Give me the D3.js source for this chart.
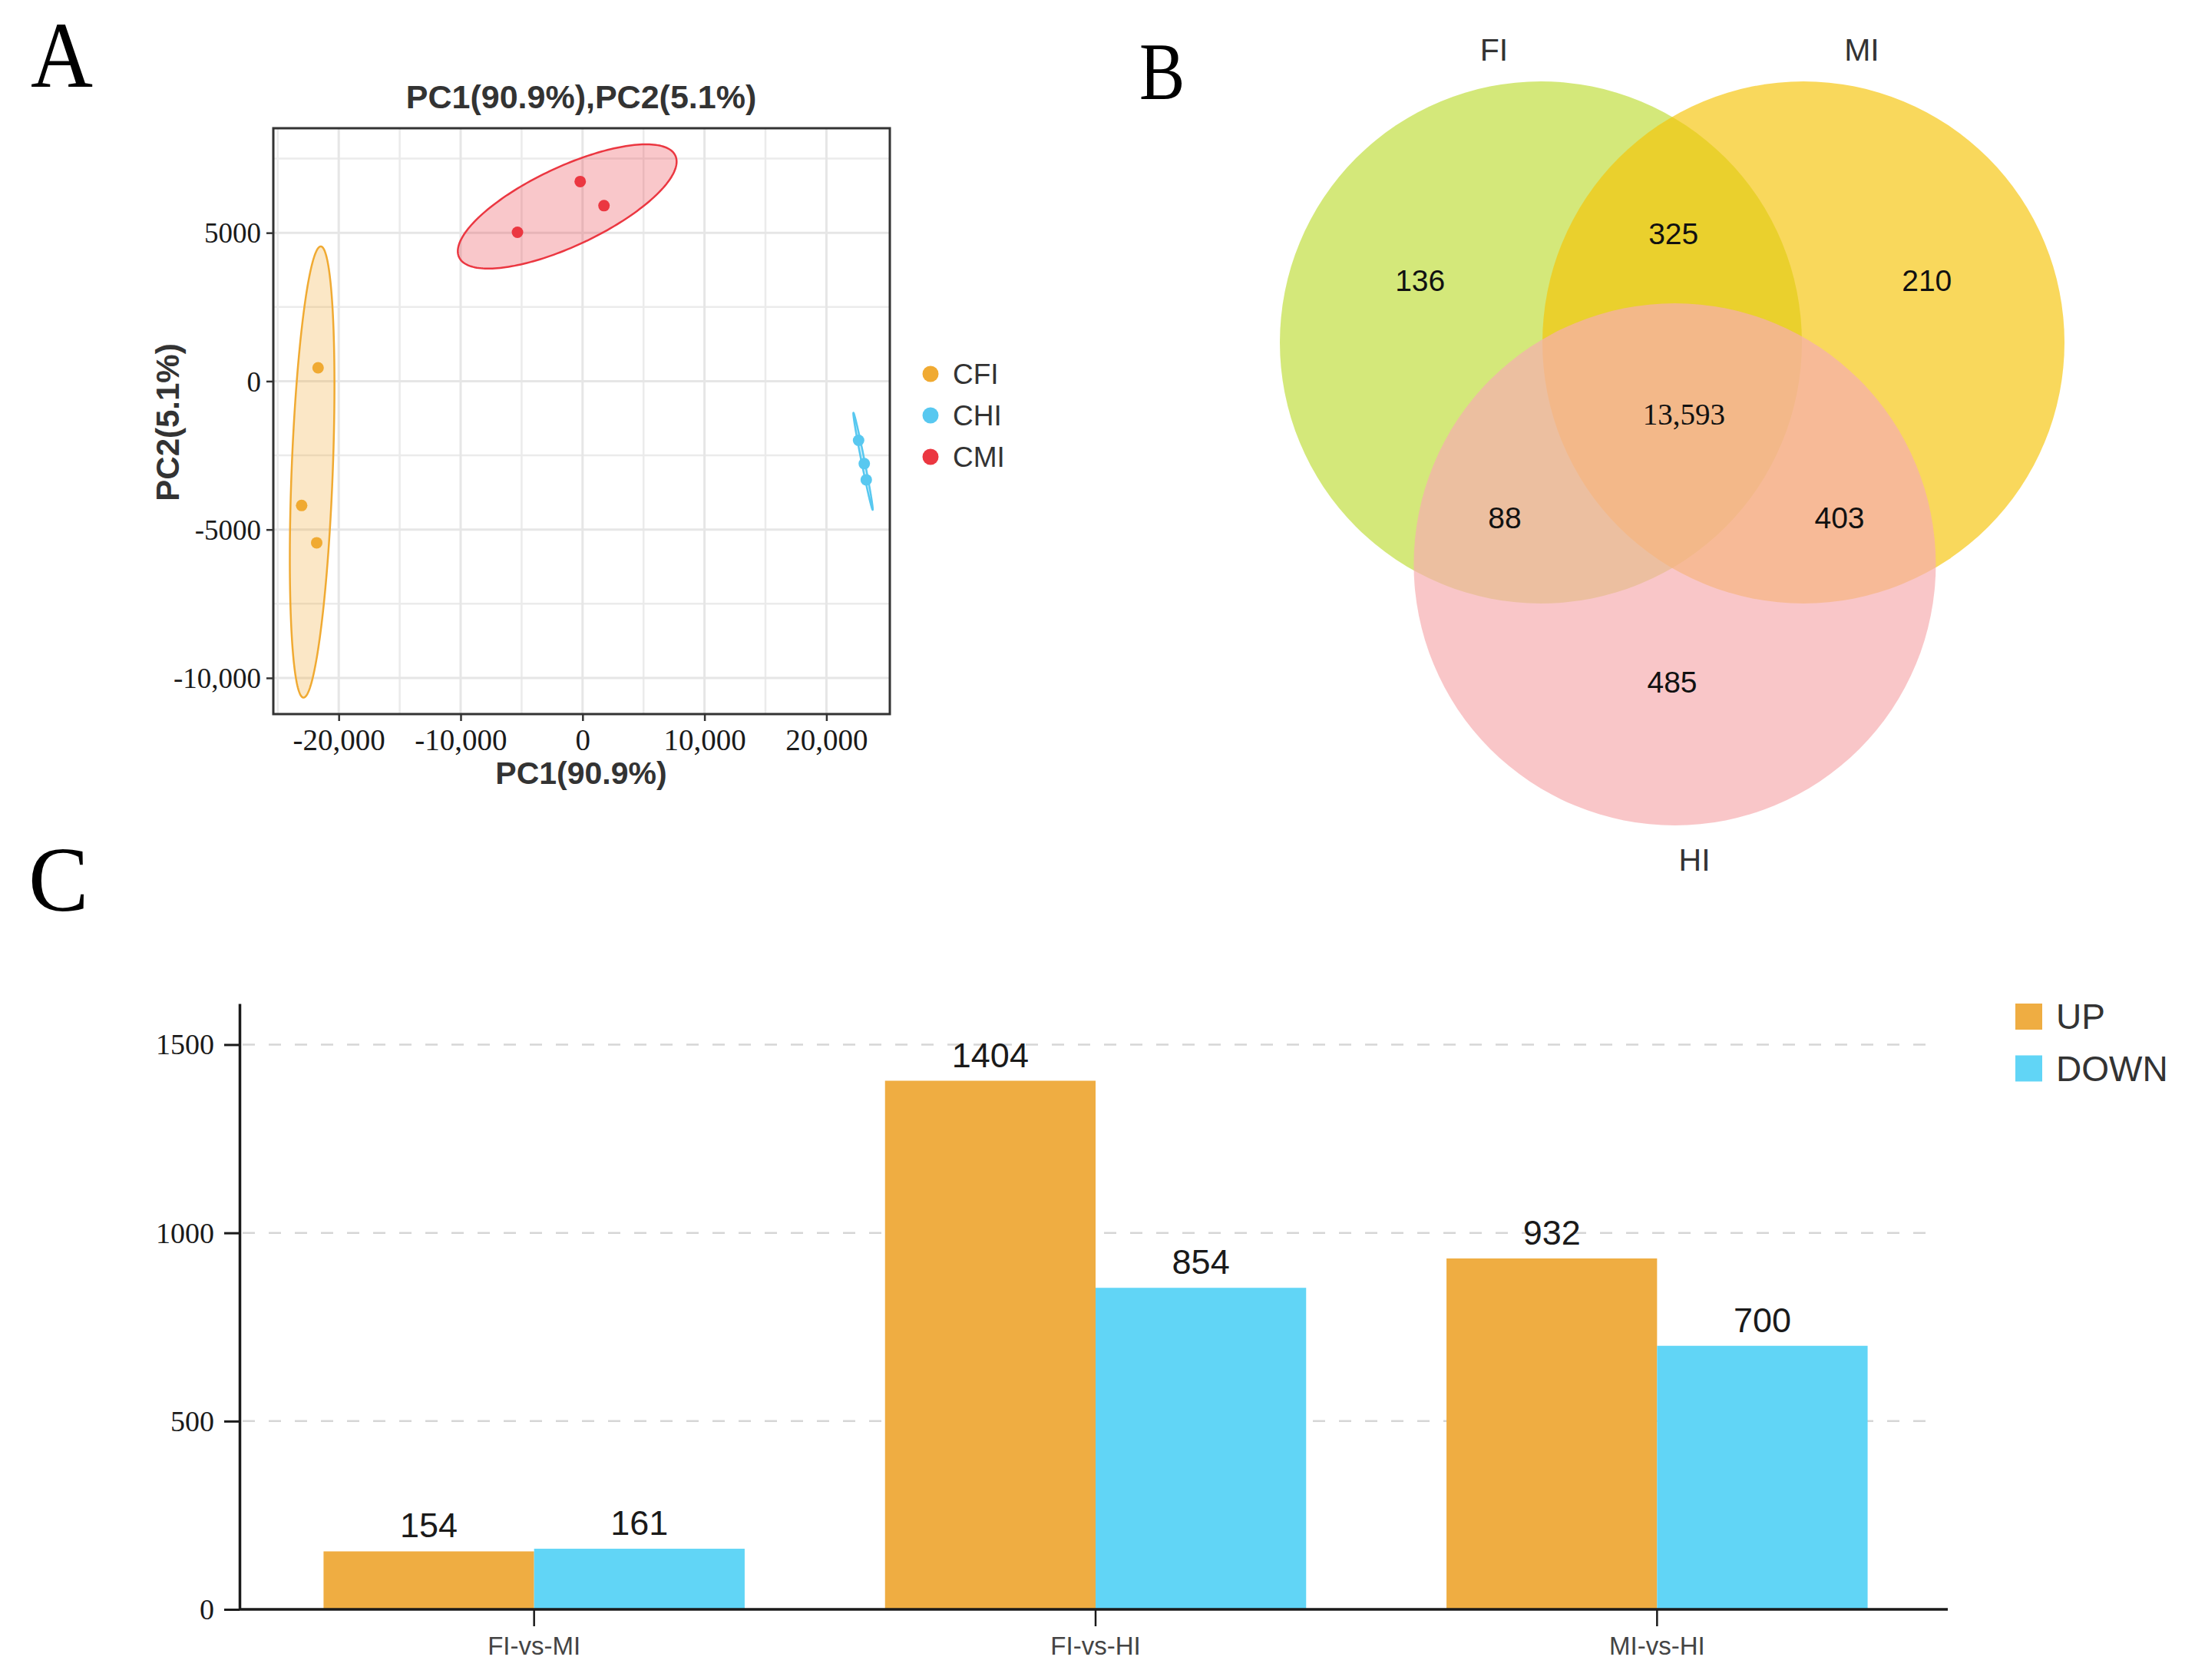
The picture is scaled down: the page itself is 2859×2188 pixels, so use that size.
<!DOCTYPE html>
<html>
<head>
<meta charset="utf-8">
<script src="https://cdn.jsdelivr.net/npm/d3@7"></script>
<style>
  body { margin: 0; background: #fff; }
  svg { display: block; }
</style>
</head>
<body>
<div class="chart"></div>
<script>
// ---- data ----
// A: PCA scores
var pcaGroups = ["CFI", "CHI", "CMI"];
var cfiPC1 = [-21694, -23042, -21807];
var cfiPC2 = [451, -4189, -5446];
var chiPC1 = [22639, 23105, 23268];
var chiPC2 = [-1995, -2780, -3324];
var cmiPC1 = [-195, 1757, -5340];
var cmiPC2 = [6728, 5914, 5018];
var pcaXTicks = [-20000, -10000, 0, 10000, 20000];
var pcaXLabels = ["-20,000", "-10,000", "0", "10,000", "20,000"];
var pcaYTicks = [-10000, -5000, 0, 5000];
var pcaYLabels = ["-10,000", "-5000", "0", "5000"];
var pcaXMinor = [-25000, -15000, -5000, 5000, 15000];
var pcaYMinor = [-7500, -2500, 2500, 7500];

// B: Venn counts
var vennSets = ["FI", "MI", "HI"];
var vennRegions = ["FI", "FI&MI", "MI", "FI&MI&HI", "FI&HI", "MI&HI", "HI"];
var vennCounts = ["136", "325", "210", "13,593", "88", "403", "485"];

// C: differential counts
var compCats = ["FI-vs-MI", "FI-vs-HI", "MI-vs-HI"];
var upVals = [154, 1404, 932];
var downVals = [161, 854, 700];
var barSeries = ["UP", "DOWN"];
var barYTicks = [0, 500, 1000, 1500];

var svgWidth = 2859;
var svgHeight = 2188;
var SANS = "'Liberation Sans', Arial, sans-serif";
var SERIF = "'Liberation Serif', 'Times New Roman', serif";

var svg = d3.select(".chart")
  .append("svg")
  .attr("width", svgWidth)
  .attr("height", svgHeight);

svg.append("rect").attr("width", svgWidth).attr("height", svgHeight).attr("fill", "#fff");

// panel letters (the originals are a bit condensed)
[["A", 40, 113, 122, 0.92], ["B", 1484, 129, 106, 0.84], ["C", 37, 1186, 120, 0.98]].forEach(function(p) {
  svg.append("text")
    .attr("transform", `translate(${p[1]}, ${p[2]}) scale(${p[4]}, 1)`)
    .attr("font-family", SERIF)
    .attr("font-size", p[3])
    .attr("fill", "#000")
    .text(p[0]);
});

// ================= A: PCA =================
var pcaColor = { CFI: "#F0AA32", CHI: "#58C8F0", CMI: "#EB3741" };
var pcaData = {
  CFI: cfiPC1.map(function(v, i) { return { x: v, y: cfiPC2[i] }; }),
  CHI: chiPC1.map(function(v, i) { return { x: v, y: chiPC2[i] }; }),
  CMI: cmiPC1.map(function(v, i) { return { x: v, y: cmiPC2[i] }; })
};

var xPca = d3.scaleLinear().domain([-25365, 25201]).range([356, 1159]);
var yPca = d3.scaleLinear().domain([-11218, 8523]).range([930, 167]);

var gA = svg.append("g");

// grid
gA.selectAll("line.minx").data(pcaXMinor).enter().append("line")
  .attr("x1", d => xPca(d)).attr("x2", d => xPca(d))
  .attr("y1", yPca.range()[1]).attr("y2", yPca.range()[0])
  .attr("stroke", "#EBEBEB").attr("stroke-width", 2.5);
gA.selectAll("line.miny").data(pcaYMinor).enter().append("line")
  .attr("y1", d => yPca(d)).attr("y2", d => yPca(d))
  .attr("x1", xPca.range()[0]).attr("x2", xPca.range()[1])
  .attr("stroke", "#EBEBEB").attr("stroke-width", 2.5);
gA.selectAll("line.majx").data(pcaXTicks).enter().append("line")
  .attr("x1", d => xPca(d)).attr("x2", d => xPca(d))
  .attr("y1", yPca.range()[1]).attr("y2", yPca.range()[0])
  .attr("stroke", "#E6E6E6").attr("stroke-width", 3);
gA.selectAll("line.majy").data(pcaYTicks).enter().append("line")
  .attr("y1", d => yPca(d)).attr("y2", d => yPca(d))
  .attr("x1", xPca.range()[0]).attr("x2", xPca.range()[1])
  .attr("stroke", "#E6E6E6").attr("stroke-width", 3);

// 95% ellipses from sample covariance
function ellipsePoints(pts) {
  var n = pts.length;
  var mx = d3.mean(pts, d => d.x), my = d3.mean(pts, d => d.y);
  var sxx = d3.sum(pts, d => (d.x - mx) * (d.x - mx)) / (n - 1);
  var syy = d3.sum(pts, d => (d.y - my) * (d.y - my)) / (n - 1);
  var sxy = d3.sum(pts, d => (d.x - mx) * (d.y - my)) / (n - 1);
  var l11 = Math.sqrt(sxx), l21 = sxy / l11, l22 = Math.sqrt(Math.max(syy - l21 * l21, 0));
  var r = Math.sqrt(5.991);
  return d3.range(0, 200).map(function(k) {
    var t = k / 200 * 2 * Math.PI;
    return { x: mx + r * l11 * Math.cos(t), y: my + r * (l21 * Math.cos(t) + l22 * Math.sin(t)) };
  });
}
var ellLine = d3.line().x(d => xPca(d.x)).y(d => yPca(d.y)).curve(d3.curveLinearClosed);

pcaGroups.forEach(function(g) {
  gA.append("path")
    .attr("d", ellLine(ellipsePoints(pcaData[g])))
    .attr("fill", pcaColor[g])
    .attr("fill-opacity", 0.28)
    .attr("stroke", pcaColor[g])
    .attr("stroke-width", 2.5);
});
pcaGroups.forEach(function(g) {
  gA.selectAll("circle." + g).data(pcaData[g]).enter().append("circle")
    .attr("cx", d => xPca(d.x))
    .attr("cy", d => yPca(d.y))
    .attr("r", 7.5)
    .attr("fill", pcaColor[g]);
});

// border
gA.append("rect")
  .attr("x", xPca.range()[0]).attr("y", yPca.range()[1])
  .attr("width", xPca.range()[1] - xPca.range()[0])
  .attr("height", yPca.range()[0] - yPca.range()[1])
  .attr("fill", "none").attr("stroke", "#333").attr("stroke-width", 3);

// axes
var axA_x = gA.append("g")
  .attr("transform", `translate(0, ${yPca.range()[0]})`)
  .call(d3.axisBottom(xPca).tickValues(pcaXTicks).tickFormat((d, i) => pcaXLabels[i]).tickSize(9).tickPadding(10));
var axA_y = gA.append("g")
  .attr("transform", `translate(${xPca.range()[0]}, 0)`)
  .call(d3.axisLeft(yPca).tickValues(pcaYTicks).tickFormat((d, i) => pcaYLabels[i]).tickSize(9).tickPadding(7));
[axA_x, axA_y].forEach(function(ax) {
  ax.select(".domain").remove();
  ax.selectAll(".tick line").attr("stroke", "#333").attr("stroke-width", 2.5);
  ax.selectAll(".tick text").attr("font-family", SERIF).attr("fill", "#1a1a1a");
});
axA_x.selectAll(".tick text").attr("font-size", 39).attr("dy", "0.71em");
axA_y.selectAll(".tick text").attr("font-size", 37).attr("dy", "0.34em");

gA.append("text")
  .attr("x", 757).attr("y", 141)
  .attr("text-anchor", "middle")
  .attr("font-family", SANS).attr("font-weight", "bold").attr("font-size", 43).attr("fill", "#333")
  .text("PC1(90.9%),PC2(5.1%)");
gA.append("text")
  .attr("x", 757).attr("y", 1021)
  .attr("text-anchor", "middle")
  .attr("font-family", SANS).attr("font-weight", "bold").attr("font-size", 41).attr("fill", "#333")
  .text("PC1(90.9%)");
gA.append("text")
  .attr("transform", "translate(233, 550) rotate(-90)")
  .attr("text-anchor", "middle")
  .attr("font-family", SANS).attr("font-weight", "bold").attr("font-size", 42).attr("fill", "#333")
  .text("PC2(5.1%)");

// legend A
var legA = gA.selectAll("g.legA").data(pcaGroups).enter().append("g")
  .attr("transform", (d, i) => `translate(1212, ${487 + i * 54})`);
legA.append("circle").attr("r", 10.5).attr("fill", d => pcaColor[d]);
legA.append("text")
  .attr("x", 29).attr("y", 13)
  .attr("font-family", SANS).attr("font-size", 37).attr("fill", "#333")
  .text(d => d);

// ================= B: Venn =================
// unit layout: top circles at x=-1/+1, y=0; bottom circle at x=0, y=1
var vx = d3.scaleLinear().domain([-1, 1]).range([2007, 2349]);
var vy = d3.scaleLinear().domain([0, 1]).range([446, 735]);
var vennR = 340;
var vennPos = { FI: [-1, 0], MI: [1, 0], HI: [0.02, 1] };
var vennFill = { FI: "rgb(189,220,50)", MI: "rgb(246,195,4)", HI: "rgb(246,174,176)" };
var vennAlpha = { FI: 0.65, MI: 0.65, HI: 0.7 };
var regionPos = [[-1.92, -0.28], [0.01, -0.49], [1.94, -0.28], [0.09, 0.32], [-1.275, 0.79], [1.275, 0.79], [0, 1.53]];
var setLabelPos = { FI: [-1.357, -1.32], MI: [1.444, -1.32], HI: [0.17, 2.33] };

var gB = svg.append("g");
gB.selectAll("circle").data(vennSets).enter().append("circle")
  .attr("cx", d => vx(vennPos[d][0]))
  .attr("cy", d => vy(vennPos[d][1]))
  .attr("r", vennR)
  .attr("fill", d => vennFill[d])
  .attr("fill-opacity", d => vennAlpha[d]);

gB.selectAll("text.count").data(vennCounts).enter().append("text")
  .attr("x", (d, i) => vx(regionPos[i][0]))
  .attr("y", (d, i) => vy(regionPos[i][1]))
  .attr("dy", "0.36em")
  .attr("text-anchor", "middle")
  .attr("font-family", (d, i) => vennRegions[i] === "FI&MI&HI" ? SERIF : SANS)
  .attr("font-size", (d, i) => vennRegions[i] === "FI&MI&HI" ? 39 : 39)
  .attr("fill", "#111")
  .text(d => d);

gB.selectAll("text.set").data(vennSets).enter().append("text")
  .attr("x", d => vx(setLabelPos[d][0]))
  .attr("y", d => vy(setLabelPos[d][1]))
  .attr("dy", "0.36em")
  .attr("text-anchor", "middle")
  .attr("font-family", SANS).attr("font-size", 41).attr("fill", "#333")
  .text(d => d);

// ================= C: bars =================
var barColor = { UP: "#EFAD42", DOWN: "#61D5F6" };
var x0 = d3.scaleBand().domain(compCats).range([330, 2524]).paddingInner(0.25).paddingOuter(0.125);
var x1 = d3.scaleBand().domain(barSeries).range([0, x0.bandwidth()]);
var yBar = d3.scaleLinear().domain([0, 1609]).range([2096, 1307]);
var axisLeftX = 312, axisRightX = 2537;

var gC = svg.append("g");

// dashed grid
gC.selectAll("line.grid").data(barYTicks.filter(d => d > 0)).enter().append("line")
  .attr("x1", axisLeftX + 4).attr("x2", 2522)
  .attr("y1", d => yBar(d)).attr("y2", d => yBar(d))
  .attr("stroke", "#D6D6D6").attr("stroke-width", 2.5)
  .attr("stroke-dasharray", "16,18");

var barData = compCats.map(function(c, i) {
  return [{ cat: c, key: "UP", value: upVals[i] }, { cat: c, key: "DOWN", value: downVals[i] }];
});
var groups = gC.selectAll("g.grp").data(barData).enter().append("g")
  .attr("transform", (d, i) => `translate(${x0(compCats[i])}, 0)`);
groups.selectAll("rect").data(d => d).enter().append("rect")
  .attr("x", d => x1(d.key))
  .attr("y", d => yBar(d.value))
  .attr("width", x1.bandwidth())
  .attr("height", d => yBar(0) - yBar(d.value))
  .attr("fill", d => barColor[d.key]);
groups.selectAll("text").data(d => d).enter().append("text")
  .attr("x", d => x1(d.key) + x1.bandwidth() / 2)
  .attr("y", d => yBar(d.value) - 18)
  .attr("text-anchor", "middle")
  .attr("font-family", SANS).attr("font-size", 45).attr("fill", "#1a1a1a")
  .text(d => d.value);

// y axis
var axC_y = gC.append("g")
  .attr("transform", `translate(${axisLeftX}, 0)`)
  .call(d3.axisLeft(yBar).tickValues(barYTicks).tickFormat(d3.format("d")).tickSize(20).tickSizeOuter(0).tickPadding(13));
axC_y.select(".domain").attr("stroke", "#1a1a1a").attr("stroke-width", 3.5);
axC_y.selectAll(".tick line").attr("stroke", "#1a1a1a").attr("stroke-width", 3);
axC_y.selectAll(".tick text").attr("font-family", SERIF).attr("font-size", 38).attr("fill", "#1a1a1a").attr("dy", "0.33em");

// x axis
gC.append("line")
  .attr("x1", axisLeftX).attr("x2", axisRightX)
  .attr("y1", yBar(0)).attr("y2", yBar(0))
  .attr("stroke", "#1a1a1a").attr("stroke-width", 3.5);
var axC_x = gC.append("g")
  .attr("transform", `translate(0, ${yBar(0)})`)
  .call(d3.axisBottom(x0).tickSize(22).tickPadding(14));
axC_x.select(".domain").remove();
axC_x.selectAll(".tick line").attr("stroke", "#1a1a1a").attr("stroke-width", 2.5);
axC_x.selectAll(".tick text").attr("font-family", SANS).attr("font-size", 33).attr("fill", "#444");

// legend C
var legC = gC.selectAll("g.legC").data(barSeries).enter().append("g")
  .attr("transform", (d, i) => `translate(2625, ${1307 + i * 67.5})`);
legC.append("rect").attr("width", 35).attr("height", 34).attr("fill", d => barColor[d]);
legC.append("text")
  .attr("x", 53).attr("y", 33)
  .attr("font-family", SANS).attr("font-size", 46).attr("fill", "#333")
  .text(d => d);
</script>
</body>
</html>
